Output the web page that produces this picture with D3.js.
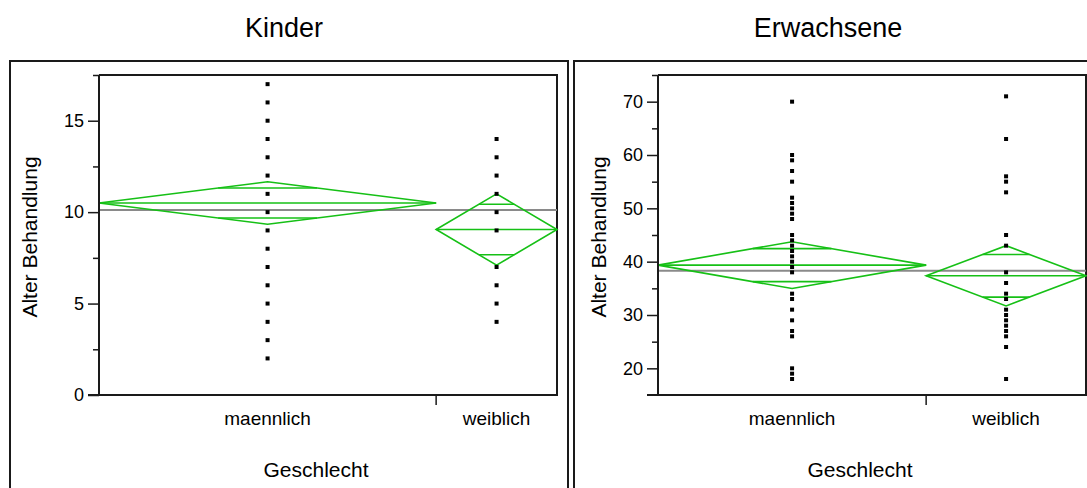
<!DOCTYPE html>
<html>
<head>
<meta charset="utf-8">
<script src="https://cdn.jsdelivr.net/npm/d3@7"></script>
<style>
  html, body { margin: 0; padding: 0; background: #fff; }
  svg { display: block; font-family: "Liberation Sans", Arial, sans-serif; }
</style>
</head>
<body>
<svg id="chart" width="1087" height="488"></svg>
<script>
// ---------- data ----------
const categories = ["maennlich", "weiblich"];
const panelTitles = ["Kinder", "Erwachsene"];
const yTitle = "Alter Behandlung";
const xTitle = "Geschlecht";

// Kinder (children)
const kinderMaennlich = [2, 3, 4, 5, 6, 7, 8, 9, 10, 11, 12, 13, 14, 15, 16, 17];
const kinderWeiblich  = [4, 5, 6, 7, 9, 10, 11, 12, 13, 14];
const kinderMeans     = [10.5, 9.05];
const kinderCIHalf    = [1.16, 1.95];
const kinderN         = [53, 19];
const kinderGrandMean = 10.12;
const kinderDomain    = [0, 17.5];
const kinderTicks     = [0, 5, 10, 15];
const kinderMinor     = [2.5, 7.5, 12.5, 17.5];

// Erwachsene (adults)
const erwMaennlich = [18, 19, 20, 26, 27, 29, 31, 33, 34, 38, 39, 40, 41, 42, 43, 44, 45,
                      48, 49, 50, 51, 52, 55, 57, 59, 60, 70];
const erwWeiblich  = [18, 24, 26, 27, 28, 29, 30, 31, 33, 34, 36, 38, 43, 45, 53, 55, 56, 63, 71];
const erwMeans     = [39.35, 37.35];
const erwCIHalf    = [4.38, 5.65];
const erwN         = [52, 31];
const erwGrandMean = 38.3;
const erwDomain    = [15, 75];
const erwTicks     = [20, 30, 40, 50, 60, 70];
const erwMinor     = [25, 35, 45, 55, 65, 75];

// ---------- drawing ----------
const svg = d3.select("#chart");
const GREEN = "#16c016";

const panels = [
  { title: panelTitles[0], titleX: 284, frame: [10, 61, 568], plot: { x0: 99, x1: 557 },
    yTitleX: 37, groups: [kinderMaennlich, kinderWeiblich], means: kinderMeans, half: kinderCIHalf,
    n: kinderN, grand: kinderGrandMean, domain: kinderDomain, ticks: kinderTicks, minor: kinderMinor },
  { title: panelTitles[1], titleX: 828, frame: [574, 61, 1095], plot: { x0: 658, x1: 1086 },
    yTitleX: 606, groups: [erwMaennlich, erwWeiblich], means: erwMeans, half: erwCIHalf,
    n: erwN, grand: erwGrandMean, domain: erwDomain, ticks: erwTicks, minor: erwMinor }
];

const plotTop = 75, plotBottom = 395;

panels.forEach(p => {
  const g = svg.append("g");
  // outer frame
  g.append("path")
    .attr("d", `M${p.frame[0]},500 L${p.frame[0]},${p.frame[1]} L${p.frame[2]},${p.frame[1]} L${p.frame[2]},500`)
    .attr("fill", "none").attr("stroke", "#1a1a1a").attr("stroke-width", 2);

  // title
  g.append("text").attr("x", p.titleX).attr("y", 37).attr("text-anchor", "middle")
    .attr("font-size", 27).attr("fill", "#000").text(p.title);

  const y = d3.scaleLinear().domain(p.domain).range([plotBottom, plotTop]);
  const total = d3.sum(p.n);
  const xn = d3.scaleLinear().domain([0, total]).range([p.plot.x0, p.plot.x1]);
  const cum = [0, ...d3.cumsum(p.n)];
  const bands = categories.map((c, i) => ({ a: xn(cum[i]), b: xn(cum[i + 1]) }));

  // plot box top & right
  g.append("path")
    .attr("d", `M${p.plot.x0},${plotTop} L${p.plot.x1},${plotTop} L${p.plot.x1},${plotBottom}`)
    .attr("fill", "none").attr("stroke", "#1a1a1a").attr("stroke-width", 2);

  // grand mean line
  g.append("line").attr("x1", p.plot.x0).attr("x2", p.plot.x1)
    .attr("y1", y(p.grand)).attr("y2", y(p.grand))
    .attr("stroke", "#8a8a8a").attr("stroke-width", 2);

  // means diamonds
  categories.forEach((c, i) => {
    const a = bands[i].a, b = bands[i].b, m = (a + b) / 2, w = (b - a) / 2;
    const mean = p.means[i], h = p.half[i];
    const dg = g.append("g").attr("stroke", GREEN).attr("fill", "none").attr("stroke-width", 1.6);
    dg.append("path").attr("d",
      `M${a},${y(mean)} L${m},${y(mean + h)} L${b},${y(mean)} L${m},${y(mean - h)} Z`);
    dg.append("line").attr("x1", a).attr("x2", b).attr("y1", y(mean)).attr("y2", y(mean));
    const k = Math.SQRT1_2;
    [1, -1].forEach(s => {
      const yy = y(mean + s * h * k);
      const hw = w * (1 - k);
      dg.append("line").attr("x1", m - hw).attr("x2", m + hw).attr("y1", yy).attr("y2", yy);
    });
  });

  // points
  categories.forEach((c, i) => {
    const cx = (bands[i].a + bands[i].b) / 2;
    g.append("g").selectAll("rect").data(p.groups[i]).join("rect")
      .attr("x", cx - 2).attr("y", d => y(d) - 2).attr("width", 4).attr("height", 4)
      .attr("fill", "#000");
  });

  // y axis
  const yAxis = d3.axisLeft(y).tickValues(p.ticks).tickSize(11).tickPadding(4).tickFormat(d3.format("d"));
  const ya = g.append("g").attr("transform", `translate(${p.plot.x0},0)`).call(yAxis);
  ya.select(".domain").attr("d", `M0,${plotTop}V${plotBottom}`).attr("stroke", "#1a1a1a").attr("stroke-width", 2);
  ya.selectAll(".tick line").attr("stroke", "#1a1a1a").attr("stroke-width", 1.5);
  ya.selectAll(".tick text").attr("font-size", 18).attr("font-family", "Liberation Sans, Arial, sans-serif").attr("fill", "#000");
  const yMinor = d3.axisLeft(y).tickValues(p.minor).tickSize(6).tickFormat("");
  const ym = g.append("g").attr("transform", `translate(${p.plot.x0},0)`).call(yMinor);
  ym.select(".domain").remove();
  ym.selectAll(".tick line").attr("stroke", "#1a1a1a").attr("stroke-width", 1.5);

  // x axis
  g.append("line").attr("x1", p.plot.x0 - 11).attr("x2", p.plot.x1 + 1)
    .attr("y1", plotBottom).attr("y2", plotBottom).attr("stroke", "#1a1a1a").attr("stroke-width", 2);
  g.append("line").attr("x1", bands[0].b).attr("x2", bands[0].b)
    .attr("y1", plotBottom).attr("y2", plotBottom + 10).attr("stroke", "#1a1a1a").attr("stroke-width", 1.5);
  categories.forEach((c, i) => {
    g.append("text").attr("x", (bands[i].a + bands[i].b) / 2).attr("y", 425)
      .attr("text-anchor", "middle").attr("font-size", 19).attr("fill", "#000").text(c);
  });

  // axis titles
  g.append("text").attr("x", (p.plot.x0 + p.plot.x1) / 2 - 12).attr("y", 477)
    .attr("text-anchor", "middle").attr("font-size", 21).attr("fill", "#000").text(xTitle);
  g.append("text").attr("transform", `translate(${p.yTitleX},237) rotate(-90)`)
    .attr("text-anchor", "middle").attr("font-size", 21).attr("fill", "#000").text(yTitle);
});
</script>
</body>
</html>
